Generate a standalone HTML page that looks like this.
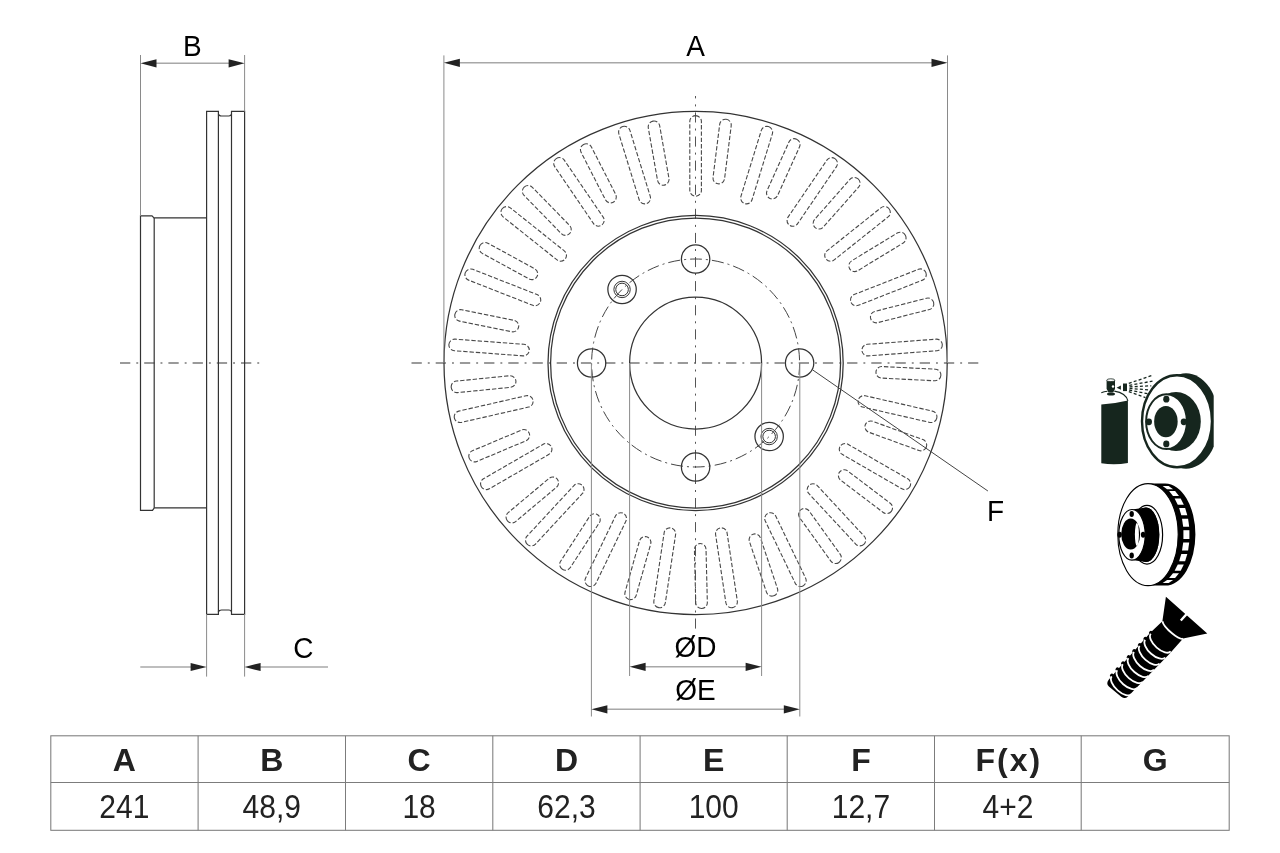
<!DOCTYPE html><html><head><meta charset="utf-8"><style>html,body{margin:0;padding:0;background:#fff;width:1280px;height:853px;overflow:hidden}svg{display:block}text{font-family:"Liberation Sans",sans-serif}svg{will-change:transform}</style></head><body>
<svg width="1280" height="853" viewBox="0 0 1280 853">
<rect width="1280" height="853" fill="#fff"/>
<g fill="none" stroke="#9a9a9a" stroke-width="1.9" stroke-dasharray="10.3 6 1.9 6">
<line x1="120" y1="363.0" x2="260" y2="363.0"/>
<line x1="411.5" y1="363.0" x2="978.3" y2="363.0"/>
</g>
<line x1="695.5" y1="96" x2="695.5" y2="629.3" stroke="#555" stroke-width="1" stroke-dasharray="10.1 6 2 6" stroke-dashoffset="7.7"/>
<g fill="none" stroke="#333" stroke-width="1.25">
<circle cx="695.6" cy="363.0" r="251.6"/>
<circle cx="695.6" cy="363.0" r="147.6"/>
<circle cx="695.6" cy="363.0" r="145"/>
<circle cx="695.6" cy="363.0" r="66"/>
<circle cx="695.60" cy="259.00" r="14.2"/>
<circle cx="799.60" cy="363.00" r="14.2"/>
<circle cx="695.60" cy="467.00" r="14.2"/>
<circle cx="591.60" cy="363.00" r="14.2"/>
<circle cx="622.06" cy="289.46" r="14.2"/>
<circle cx="622.06" cy="289.46" r="8.2" stroke-width="1"/>
<circle cx="622.06" cy="289.46" r="6.3" stroke-width="1"/>
<circle cx="769.14" cy="436.54" r="14.2"/>
<circle cx="769.14" cy="436.54" r="8.2" stroke-width="1"/>
<circle cx="769.14" cy="436.54" r="6.3" stroke-width="1"/>
</g>
<circle cx="695.6" cy="363.0" r="104" fill="none" stroke="#444" stroke-width="1" stroke-dasharray="12 4 2 4"/>
<g transform="translate(695.6,363.0)" fill="none" stroke="#484848" stroke-width="1.1" stroke-dasharray="4.4 1.9">
<rect x="-5.8" y="-247.4" width="11.6" height="80.6" rx="5.8" transform="rotate(0.000)"/>
<rect x="-5.8" y="-245.6" width="11.6" height="65" rx="5.8" transform="rotate(7.150)"/>
<rect x="-5.8" y="-247.4" width="11.6" height="80.6" rx="5.8" transform="rotate(17.143)"/>
<rect x="-5.8" y="-245.6" width="11.6" height="65" rx="5.8" transform="rotate(24.293)"/>
<rect x="-5.8" y="-247.4" width="11.6" height="80.6" rx="5.8" transform="rotate(34.286)"/>
<rect x="-5.8" y="-245.6" width="11.6" height="65" rx="5.8" transform="rotate(41.436)"/>
<rect x="-5.8" y="-247.4" width="11.6" height="80.6" rx="5.8" transform="rotate(51.429)"/>
<rect x="-5.8" y="-245.6" width="11.6" height="65" rx="5.8" transform="rotate(58.579)"/>
<rect x="-5.8" y="-247.4" width="11.6" height="80.6" rx="5.8" transform="rotate(68.571)"/>
<rect x="-5.8" y="-245.6" width="11.6" height="65" rx="5.8" transform="rotate(75.721)"/>
<rect x="-5.8" y="-247.4" width="11.6" height="80.6" rx="5.8" transform="rotate(85.714)"/>
<rect x="-5.8" y="-245.6" width="11.6" height="65" rx="5.8" transform="rotate(92.864)"/>
<rect x="-5.8" y="-247.4" width="11.6" height="80.6" rx="5.8" transform="rotate(102.857)"/>
<rect x="-5.8" y="-245.6" width="11.6" height="65" rx="5.8" transform="rotate(110.007)"/>
<rect x="-5.8" y="-247.4" width="11.6" height="80.6" rx="5.8" transform="rotate(120.000)"/>
<rect x="-5.8" y="-245.6" width="11.6" height="65" rx="5.8" transform="rotate(127.150)"/>
<rect x="-5.8" y="-247.4" width="11.6" height="80.6" rx="5.8" transform="rotate(137.143)"/>
<rect x="-5.8" y="-245.6" width="11.6" height="65" rx="5.8" transform="rotate(144.293)"/>
<rect x="-5.8" y="-247.4" width="11.6" height="80.6" rx="5.8" transform="rotate(154.286)"/>
<rect x="-5.8" y="-245.6" width="11.6" height="65" rx="5.8" transform="rotate(161.436)"/>
<rect x="-5.8" y="-247.4" width="11.6" height="80.6" rx="5.8" transform="rotate(171.429)"/>
<rect x="-5.8" y="-245.6" width="11.6" height="65" rx="5.8" transform="rotate(178.579)"/>
<rect x="-5.8" y="-247.4" width="11.6" height="80.6" rx="5.8" transform="rotate(188.571)"/>
<rect x="-5.8" y="-245.6" width="11.6" height="65" rx="5.8" transform="rotate(195.721)"/>
<rect x="-5.8" y="-247.4" width="11.6" height="80.6" rx="5.8" transform="rotate(205.714)"/>
<rect x="-5.8" y="-245.6" width="11.6" height="65" rx="5.8" transform="rotate(212.864)"/>
<rect x="-5.8" y="-247.4" width="11.6" height="80.6" rx="5.8" transform="rotate(222.857)"/>
<rect x="-5.8" y="-245.6" width="11.6" height="65" rx="5.8" transform="rotate(230.007)"/>
<rect x="-5.8" y="-247.4" width="11.6" height="80.6" rx="5.8" transform="rotate(240.000)"/>
<rect x="-5.8" y="-245.6" width="11.6" height="65" rx="5.8" transform="rotate(247.150)"/>
<rect x="-5.8" y="-247.4" width="11.6" height="80.6" rx="5.8" transform="rotate(257.143)"/>
<rect x="-5.8" y="-245.6" width="11.6" height="65" rx="5.8" transform="rotate(264.293)"/>
<rect x="-5.8" y="-247.4" width="11.6" height="80.6" rx="5.8" transform="rotate(274.286)"/>
<rect x="-5.8" y="-245.6" width="11.6" height="65" rx="5.8" transform="rotate(281.436)"/>
<rect x="-5.8" y="-247.4" width="11.6" height="80.6" rx="5.8" transform="rotate(291.429)"/>
<rect x="-5.8" y="-245.6" width="11.6" height="65" rx="5.8" transform="rotate(298.579)"/>
<rect x="-5.8" y="-247.4" width="11.6" height="80.6" rx="5.8" transform="rotate(308.571)"/>
<rect x="-5.8" y="-245.6" width="11.6" height="65" rx="5.8" transform="rotate(315.721)"/>
<rect x="-5.8" y="-247.4" width="11.6" height="80.6" rx="5.8" transform="rotate(325.714)"/>
<rect x="-5.8" y="-245.6" width="11.6" height="65" rx="5.8" transform="rotate(332.864)"/>
<rect x="-5.8" y="-247.4" width="11.6" height="80.6" rx="5.8" transform="rotate(342.857)"/>
<rect x="-5.8" y="-245.6" width="11.6" height="65" rx="5.8" transform="rotate(350.007)"/>
</g>
<g fill="none" stroke="#333" stroke-width="1.2">
<path d="M206.6,614.4 V111.45 H218.4 V113.8 Q219,116 221.5,116 H228.7 Q231.4,116 231.5,113.8 V111.45 H244.6 V614.4 H231.5 V612 Q231.4,610 228.7,610 H221.5 Q219,610 218.4,612 V614.4 Z"/>
<line x1="218.4" y1="114" x2="218.4" y2="612"/>
<line x1="231.5" y1="114" x2="231.5" y2="612"/>
<path d="M206.6,217.9 H154 L152,215.9 H140.5 V510.3 H152.5 L154.3,507.8 H206.6"/>
<line x1="154.2" y1="217.9" x2="154.2" y2="507.8"/>
</g>
<g stroke="#8a8a8a" stroke-width="1" fill="none">
<line x1="140.5" y1="55" x2="140.5" y2="216"/>
<line x1="244.6" y1="55" x2="244.6" y2="111.5"/>
<line x1="206.6" y1="614" x2="206.6" y2="676.6"/>
<line x1="244.6" y1="614" x2="244.6" y2="676.6"/>
<line x1="443.9" y1="55.4" x2="443.9" y2="363"/>
<line x1="947.5" y1="55.4" x2="947.5" y2="363"/>
<line x1="629.6" y1="363" x2="629.6" y2="676"/>
<line x1="761.6" y1="363" x2="761.6" y2="676"/>
<line x1="591.4" y1="363" x2="591.4" y2="716.5"/>
<line x1="799.8" y1="363" x2="799.8" y2="716.5"/>
</g>
<g stroke="#a8a8a8" stroke-width="1.6" fill="none">
<line x1="150" y1="63.3" x2="235" y2="63.3"/>
<line x1="455" y1="62.8" x2="936" y2="62.8"/>
<line x1="140.3" y1="667" x2="195" y2="667"/>
<line x1="256" y1="667" x2="328" y2="667"/>
<line x1="640" y1="666.8" x2="750" y2="666.8"/>
<line x1="600" y1="709.3" x2="790" y2="709.3"/>
</g>
<polygon points="140.50,63.30 156.50,59.20 156.50,67.40" fill="#222"/>
<polygon points="244.60,63.30 228.60,67.40 228.60,59.20" fill="#222"/>
<polygon points="443.90,62.80 459.90,58.70 459.90,66.90" fill="#222"/>
<polygon points="947.50,62.80 931.50,66.90 931.50,58.70" fill="#222"/>
<polygon points="206.60,667.00 190.60,671.10 190.60,662.90" fill="#222"/>
<polygon points="244.60,667.00 260.60,662.90 260.60,671.10" fill="#222"/>
<polygon points="629.60,666.80 645.60,662.70 645.60,670.90" fill="#222"/>
<polygon points="761.60,666.80 745.60,670.90 745.60,662.70" fill="#222"/>
<polygon points="591.40,709.30 607.40,705.20 607.40,713.40" fill="#222"/>
<polygon points="799.80,709.30 783.80,713.40 783.80,705.20" fill="#222"/>
<line x1="812.8" y1="370" x2="987.9" y2="491" stroke="#444" stroke-width="1"/>
<text transform="translate(192.4,55.5) scale(1.0,1.07)" font-size="28" text-anchor="middle" fill="#000">B</text>
<text transform="translate(695.65,55.5) scale(1.0,1.07)" font-size="28" text-anchor="middle" fill="#000">A</text>
<text transform="translate(303.35,658.4) scale(1.0,1.07)" font-size="28" text-anchor="middle" fill="#000">C</text>
<text transform="translate(695.4,656.8) scale(1.0,1.07)" font-size="28" text-anchor="middle" fill="#000">ØD</text>
<text transform="translate(695.55,699.7) scale(1.0,1.07)" font-size="28" text-anchor="middle" fill="#000">ØE</text>
<text transform="translate(995.55,520.9) scale(1.0,1.07)" font-size="28" text-anchor="middle" fill="#000">F</text>
<g stroke="#7c7c7c" stroke-width="1.05" fill="none">
<rect x="50.8" y="735.8" width="1178.4" height="94.5"/>
<line x1="50.8" y1="782.5" x2="1229.2" y2="782.5"/>
<line x1="198.1" y1="735.8" x2="198.1" y2="830.3"/>
<line x1="345.5" y1="735.8" x2="345.5" y2="830.3"/>
<line x1="492.8" y1="735.8" x2="492.8" y2="830.3"/>
<line x1="640.1" y1="735.8" x2="640.1" y2="830.3"/>
<line x1="787.2" y1="735.8" x2="787.2" y2="830.3"/>
<line x1="934.5" y1="735.8" x2="934.5" y2="830.3"/>
<line x1="1081.2" y1="735.8" x2="1081.2" y2="830.3"/>
</g>
<g fill="#222" text-anchor="middle">
<text transform="translate(124.4,770.5)" font-size="32" font-weight="bold">A</text>
<text transform="translate(124.4,817.6) scale(1,1.08)" font-size="30">241</text>
<text transform="translate(271.8,770.5)" font-size="32" font-weight="bold">B</text>
<text transform="translate(271.8,817.6) scale(1,1.08)" font-size="30">48,9</text>
<text transform="translate(419.1,770.5)" font-size="32" font-weight="bold">C</text>
<text transform="translate(419.1,817.6) scale(1,1.08)" font-size="30">18</text>
<text transform="translate(566.5,770.5)" font-size="32" font-weight="bold">D</text>
<text transform="translate(566.5,817.6) scale(1,1.08)" font-size="30">62,3</text>
<text transform="translate(713.7,770.5)" font-size="32" font-weight="bold">E</text>
<text transform="translate(713.7,817.6) scale(1,1.08)" font-size="30">100</text>
<text transform="translate(860.9,770.5)" font-size="32" font-weight="bold">F</text>
<text transform="translate(860.9,817.6) scale(1,1.08)" font-size="30">12,7</text>
<text transform="translate(1008.9,770.5)" font-size="32" font-weight="bold" letter-spacing="2">F(x)</text>
<text transform="translate(1007.9,817.6) scale(1,1.08)" font-size="30">4+2</text>
<text transform="translate(1155.2,770.5)" font-size="32" font-weight="bold">G</text>
</g>
<defs><clipPath id="c1"><rect x="1100" y="360" width="113.7" height="120"/></clipPath></defs>
<g fill="#16261e" stroke="none">
<ellipse cx="1186" cy="421" rx="33" ry="47.7" clip-path="url(#c1)"/>
<ellipse cx="1177" cy="421.2" rx="35" ry="46" fill="#fff" stroke="#16261e" stroke-width="2.4"/>
<ellipse cx="1176" cy="421.5" rx="24.8" ry="29.4"/>
<ellipse cx="1166.5" cy="421.6" rx="20.4" ry="27.4" fill="#fff" stroke="#16261e" stroke-width="2"/>
<ellipse cx="1165.9" cy="421.6" rx="11.75" ry="15.6"/>
<ellipse cx="1166.3" cy="399.2" rx="3.1" ry="3.4"/>
<ellipse cx="1148.9" cy="421.8" rx="3.1" ry="3.4"/>
<ellipse cx="1183.8" cy="421.8" rx="3.1" ry="3.4"/>
<ellipse cx="1166.3" cy="443.9" rx="3.1" ry="3.4"/>
<path d="M1101.3,404.5 Q1114,404 1127.9,400.6 L1127.9,463 Q1114.6,465.5 1101.3,463.3 Z"/>
<path d="M1101.3,392.8 Q1104,391.6 1107.5,391.2 M1114.3,391.1 Q1126,393 1127.9,400.8" fill="none" stroke="#16261e" stroke-width="1.1"/>
<path d="M1106.6,380.2 H1115 V389 Q1113.5,391 1113.4,392.5 H1108.4 Q1108.2,391 1106.6,389 Z"/>
<ellipse cx="1111" cy="393.9" rx="4" ry="1.5"/>
<ellipse cx="1110.8" cy="380.2" rx="4.1" ry="1.4" fill="#fff" stroke="#16261e" stroke-width="0.8"/>
<circle cx="1113" cy="386.5" r="1.2" fill="#fff"/>
<path d="M1116.6,387.7 L1120.9,385.6 L1120.9,389.8 Z"/>
<rect x="1123" y="383.5" width="4" height="7.6"/>
</g>
<g stroke="#16261e" stroke-width="1.3" fill="none" stroke-dasharray="3 2.2">
<line x1="1128.8" y1="383.4" x2="1152.5" y2="375.3"/>
<line x1="1129.3" y1="385.3" x2="1152.5" y2="381.1"/>
<line x1="1129.5" y1="386.9" x2="1151.3" y2="385.8"/>
<line x1="1129.5" y1="388.4" x2="1150.1" y2="390"/>
<line x1="1129.2" y1="390.0" x2="1149" y2="394"/>
<line x1="1128.8" y1="391.7" x2="1145.5" y2="397.6"/>
</g>
<g fill="#000">
<ellipse cx="1148.0" cy="534.6" rx="30.2" ry="51.0" fill="#fff" stroke="#000" stroke-width="1.1"/>
<path d="M1148.0,483.6 H1165.2 A30.2,51.0 0 0 1 1165.2,585.6 H1148.0 A30.2,51.0 0 0 0 1148.0,483.6 Z"/>
<polygon points="1162.6,486.1 1168.6,486.1 1173.1,489.2 1167.1,489.2" fill="#fff"/>
<polygon points="1169.1,491.1 1175.1,491.1 1179.0,495.9 1173.0,495.9" fill="#fff"/>
<polygon points="1174.6,498.5 1180.7,498.5 1183.8,504.7 1177.8,504.7" fill="#fff"/>
<polygon points="1179.1,507.9 1185.1,507.9 1187.3,515.2 1181.3,515.2" fill="#fff"/>
<polygon points="1182.0,518.8 1188.1,518.8 1189.2,526.7 1183.2,526.7" fill="#fff"/>
<polygon points="1183.4,530.2 1189.4,530.2 1189.4,539.0 1183.4,539.0" fill="#fff"/>
<polygon points="1183.2,542.5 1189.2,542.5 1188.1,550.4 1182.0,550.4" fill="#fff"/>
<polygon points="1181.3,554.0 1187.3,554.0 1185.1,561.3 1179.1,561.3" fill="#fff"/>
<polygon points="1177.8,564.5 1183.8,564.5 1180.7,570.7 1174.6,570.7" fill="#fff"/>
<polygon points="1173.0,573.3 1179.0,573.3 1175.1,578.1 1169.1,578.1" fill="#fff"/>
<polygon points="1167.1,580.0 1173.1,580.0 1168.6,583.1 1162.6,583.1" fill="#fff"/>
<ellipse cx="1147" cy="534.7" rx="15.6" ry="29.4" fill="#fff" stroke="#000" stroke-width="1.2"/>
<path d="M1132,509.5 L1146,507.5 A13.3,27.3 0 0 1 1146,562.1 L1132,560.1 Z"/>
<ellipse cx="1146" cy="534.8" rx="13.3" ry="27.3"/>
<ellipse cx="1132" cy="534.8" rx="13.2" ry="25.3" fill="#fff" stroke="#000" stroke-width="1.2"/>
<ellipse cx="1130.7" cy="534.1" rx="9.5" ry="15.5"/>
<ellipse cx="1136.9" cy="534.6" rx="2" ry="11.5" fill="#fff"/>
<ellipse cx="1131.7" cy="514.1" rx="2.2" ry="3"/>
<ellipse cx="1119.6" cy="534.8" rx="2.2" ry="3"/>
<ellipse cx="1143.1" cy="534.8" rx="2.2" ry="3"/>
<ellipse cx="1131.7" cy="555.5" rx="2.2" ry="3"/>
</g>
<g transform="translate(1186.6,615.05) rotate(42.5)" fill="#000">
<path d="M-27.7,0.4 L27.7,-0.4 L13.2,19.6 L13.6,40 L11.8,100 Q11.5,104 7,104.3 L-9,105.2 Q-13.6,105 -13.8,100 L-14.8,38 L-13.7,20.9 Z"/>
<circle cx="-14.2" cy="37.20" r="2"/>
<circle cx="-14.2" cy="45.46" r="2"/>
<circle cx="-14.2" cy="53.72" r="2"/>
<circle cx="-14.2" cy="61.98" r="2"/>
<circle cx="-14.2" cy="70.24" r="2"/>
<circle cx="-14.2" cy="78.50" r="2"/>
<circle cx="-14.2" cy="86.76" r="2"/>
<circle cx="-14.2" cy="95.02" r="2"/>
<g fill="none" stroke="#fff" stroke-width="1.8">
<path d="M-13.7,20.9 A14,4 0 0 0 13.2,19.6"/>
<path d="M-13.8,38.00 A13.3,6.5 0 0 0 12.8,37.50"/>
<path d="M-13.8,46.26 A13.3,6.5 0 0 0 12.8,45.76"/>
<path d="M-13.8,54.52 A13.3,6.5 0 0 0 12.8,54.02"/>
<path d="M-13.8,62.78 A13.3,6.5 0 0 0 12.8,62.28"/>
<path d="M-13.8,71.04 A13.3,6.5 0 0 0 12.8,70.54"/>
<path d="M-13.8,79.30 A13.3,6.5 0 0 0 12.8,78.80"/>
<path d="M-13.8,87.56 A13.3,6.5 0 0 0 12.8,87.06"/>
<path d="M-13.8,95.82 A13.3,6.5 0 0 0 12.8,95.32"/>
<line x1="-0.65" y1="-1" x2="-0.65" y2="7.9" stroke-width="2.3"/>
</g></g>
</svg></body></html>
